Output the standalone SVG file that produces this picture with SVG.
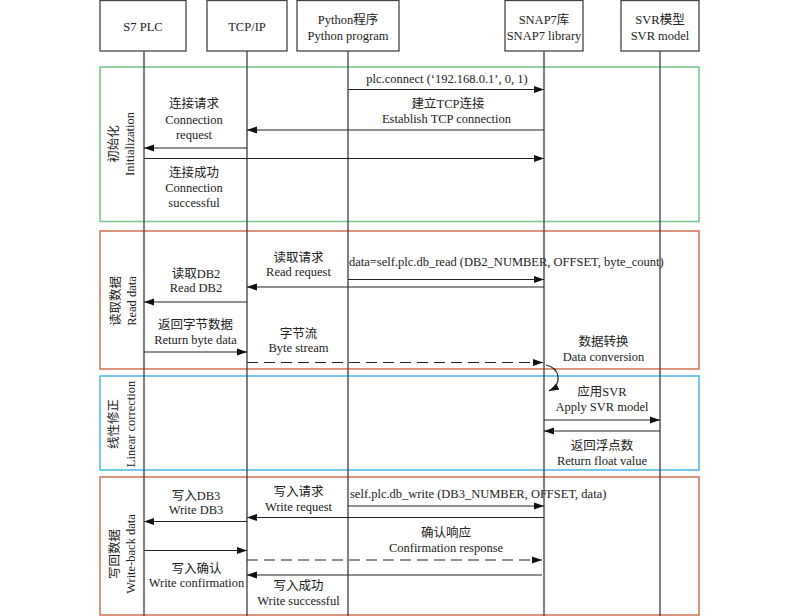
<svg xmlns="http://www.w3.org/2000/svg" width="800" height="616" viewBox="0 0 800 616">
<style>
text{font-family:"Liberation Serif","Noto Sans CJK SC",serif;font-size:12.5px;fill:#222;text-anchor:middle}
.start{text-anchor:start}
.hdr{fill:#fff;stroke:#444;stroke-width:1.3}
.life{stroke:#4a4a4a;stroke-width:1.4;fill:none}
.lane{fill:none;stroke-width:1.6}
.msg{stroke:#222;stroke-width:1.2;fill:none;marker-end:url(#ah)}
.dash{stroke-dasharray:11 6}
</style>
<defs>
<marker id="ah" markerUnits="userSpaceOnUse" markerWidth="10" markerHeight="8" refX="10" refY="4" orient="auto">
<path d="M0,0.5 L10,4 L0,7.5 z" fill="#111"/>
</marker>
</defs>
<rect width="800" height="616" fill="#fff"/>

<g id="lanes">
<rect class="lane" x="100" y="67" width="599" height="154.5" stroke="#78c98a"/>
<rect class="lane" x="100" y="231" width="599" height="138" stroke="#d27a5c"/>
<rect class="lane" x="100" y="376" width="599" height="94" stroke="#56b8e6"/>
<rect class="lane" x="100" y="477" width="599" height="138" stroke="#d27a5c"/>
</g>

<g id="lifelines">
<line class="life" x1="144" y1="51" x2="144" y2="616"/>
<line class="life" x1="247" y1="51" x2="247" y2="616"/>
<line class="life" x1="348" y1="51" x2="348" y2="616"/>
<line class="life" x1="544" y1="51" x2="544" y2="616"/>
<line class="life" x1="660" y1="51" x2="660" y2="616"/>
</g>

<g id="node-s7plc">
<rect class="hdr" x="100" y="0.5" width="86" height="50.5"/>
<text x="143" y="31">S7 PLC</text>
</g>
<g id="node-tcpip">
<rect class="hdr" x="207" y="0.5" width="80" height="50.5"/>
<text x="247" y="31">TCP/IP</text>
</g>
<g id="node-python">
<rect class="hdr" x="297" y="0.5" width="102" height="50.5"/>
<text x="348" y="24">Python程序</text>
<text x="348" y="39.5">Python program</text>
</g>
<g id="node-snap7">
<rect class="hdr" x="505" y="0.5" width="78" height="50.5"/>
<text x="544" y="24">SNAP7库</text>
<text x="544" y="39.5">SNAP7 library</text>
</g>
<g id="node-svr">
<rect class="hdr" x="621" y="0.5" width="78" height="50.5"/>
<text x="660" y="24">SVR模型</text>
<text x="660" y="39.5">SVR model</text>
</g>

<g id="lane-labels">
<text transform="translate(118,144) rotate(-90)">初始化</text>
<text transform="translate(134,144) rotate(-90)">Initialization</text>
<text transform="translate(119.5,301) rotate(-90)">读取数据</text>
<text transform="translate(135.5,301) rotate(-90)">Read data</text>
<text transform="translate(118,424) rotate(-90)">线性修正</text>
<text transform="translate(134.5,424) rotate(-90)">Linear correction</text>
<text transform="translate(119,554) rotate(-90)">写回数据</text>
<text transform="translate(135,554) rotate(-90)">Write-back data</text>
</g>

<g id="connectors">
<line class="msg" x1="348" y1="89.5" x2="544" y2="89.5"/>
<line class="msg" x1="544" y1="130" x2="247" y2="130"/>
<line class="msg" x1="247" y1="148" x2="144" y2="148"/>
<line class="msg" x1="144" y1="158.5" x2="544" y2="158.5"/>

<line class="msg" x1="348" y1="279.5" x2="544" y2="279.5"/>
<line class="msg" x1="544" y1="287" x2="247" y2="287"/>
<line class="msg" x1="247" y1="302" x2="144" y2="302"/>
<line class="msg" x1="144" y1="352" x2="247" y2="352"/>
<line class="msg dash" x1="247" y1="362.5" x2="543" y2="362.5"/>
<path class="msg" d="M546,365 C560,368 563,384 549,391"/>

<line class="msg" x1="544" y1="420" x2="660" y2="420"/>
<line class="msg" x1="660" y1="431" x2="544" y2="431"/>

<line class="msg" x1="348" y1="506" x2="544" y2="506"/>
<line class="msg" x1="544" y1="517.5" x2="247" y2="517.5"/>
<line class="msg" x1="247" y1="521.5" x2="144" y2="521.5"/>
<line class="msg" x1="144" y1="550.5" x2="247" y2="550.5"/>
<line class="msg dash" x1="247" y1="560" x2="542" y2="560"/>
<line class="msg" x1="542" y1="575" x2="247" y2="575"/>
</g>

<g id="labels">
<text x="447" y="82.5">plc.connect (‘192.168.0.1’, 0, 1)</text>
<text x="448" y="107.5">建立TCP连接</text>
<text x="446.5" y="122.5">Establish TCP connection</text>
<text x="194" y="107.5">连接请求</text>
<text x="194" y="124">Connection</text>
<text x="194" y="138.5">request</text>
<text x="194" y="177">连接成功</text>
<text x="194" y="192">Connection</text>
<text x="194" y="207">successful</text>

<text x="298.5" y="261.5">读取请求</text>
<text x="298.5" y="276">Read request</text>
<text class="start" x="349" y="266">data=self.plc.db_read (DB2_NUMBER, OFFSET, byte_count)</text>
<text x="196" y="277.5">读取DB2</text>
<text x="196" y="292">Read DB2</text>
<text x="195.5" y="328.5">返回字节数据</text>
<text x="195.5" y="343.5">Return byte data</text>
<text x="298.5" y="337.5">字节流</text>
<text x="298.5" y="352">Byte stream</text>
<text x="603.5" y="346">数据转换</text>
<text x="603.5" y="361">Data conversion</text>

<text x="602" y="396">应用SVR</text>
<text x="602" y="410.5">Apply SVR model</text>
<text x="602" y="449.5">返回浮点数</text>
<text x="602" y="464.5">Return float value</text>

<text x="196" y="499.5">写入DB3</text>
<text x="196" y="513.5">Write DB3</text>
<text x="298.5" y="496">写入请求</text>
<text x="298.5" y="510.5">Write request</text>
<text class="start" x="350" y="497.5">self.plc.db_write (DB3_NUMBER, OFFSET, data)</text>
<text x="446" y="536.5">确认响应</text>
<text x="446" y="552">Confirmation response</text>
<text x="196.5" y="572.5">写入确认</text>
<text x="196.5" y="587">Write confirmation</text>
<text x="298.5" y="589.5">写入成功</text>
<text x="298.5" y="604.5">Write successful</text>
</g>
</svg>
